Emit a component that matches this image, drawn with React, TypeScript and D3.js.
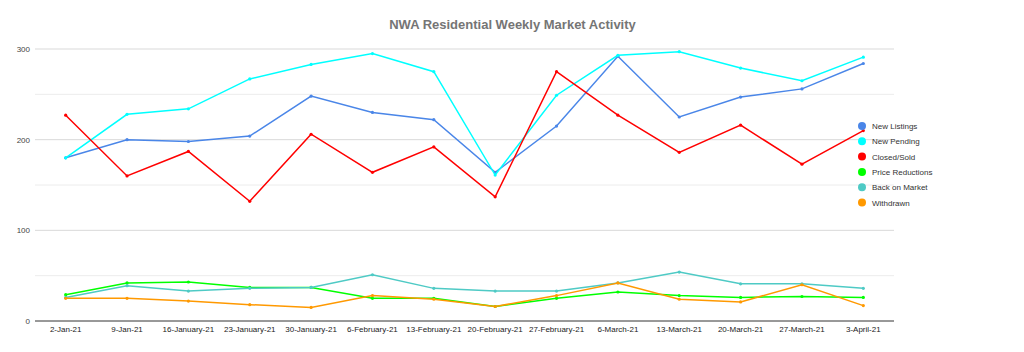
import React from 'react';
import * as d3 from 'd3';

const weeks = [
  '2-Jan-21', '9-Jan-21', '16-January-21', '23-January-21', '30-January-21',
  '6-February-21', '13-February-21', '20-February-21', '27-February-21',
  '6-March-21', '13-March-21', '20-March-21', '27-March-21', '3-April-21',
];

const newListings = [180, 200, 198, 204, 248, 230, 222, 164, 215, 292, 225, 247, 256, 284];
const newPending = [180, 228, 234, 267, 283, 295, 275, 161, 249, 293, 297, 279, 265, 291];
const closedSold = [227, 160, 187, 132, 206, 164, 192, 137, 275, 227, 186, 216, 173, 210];
const priceReductions = [29, 42, 43, 37, 37, 25, 25, 16, 25, 32, 28, 26, 27, 26];
const backOnMarket = [26, 39, 33, 36, 37, 51, 36, 33, 33, 42, 54, 41, 41, 36];
const withdrawn = [25, 25, 22, 18, 15, 28, 24, 16, 28, 42, 24, 21, 40, 17];

const seriesNames = ['New Listings', 'New Pending', 'Closed/Sold', 'Price Reductions', 'Back on Market', 'Withdrawn'];
const seriesColors = ['#4a86e8', '#00ffff', '#ff0000', '#00ff00', '#4ecac5', '#ff9900'];
const seriesValues = [newListings, newPending, closedSold, priceReductions, backOnMarket, withdrawn];

const yTicks = [0, 100, 200, 300];
const yGrid = [50, 100, 150, 200, 250, 300];

const width = 1024;
const height = 352;
const margin = { top: 49, left: 35, right: 130, bottom: 31 };

export default function App() {
  const x = d3.scalePoint<string>()
    .domain(weeks)
    .range([margin.left, width - margin.right])
    .padding(0.5);
  const y = d3.scaleLinear()
    .domain([0, 300])
    .range([height - margin.bottom, margin.top]);

  const line = d3.line<number>()
    .x((d, i) => x(weeks[i]) as number)
    .y(d => y(d));

  const font = 'Arial, "Liberation Sans", sans-serif';

  return (
    <div style={{ position: 'absolute', left: 0, top: 0 }}>
      <svg width={width} height={height} style={{ display: 'block', fontFamily: font }}>
        <rect width={width} height={height} fill="#fff" />
        <text x={512.5} y={29} textAnchor="middle" fontSize={13} fontWeight="bold" fill="#757575">
          NWA Residential Weekly Market Activity
        </text>
        {yGrid.map(t => (
          <line key={t} x1={margin.left} x2={width - margin.right} y1={y(t)} y2={y(t)}
            stroke={t % 100 === 0 ? '#d9d9d9' : '#ececec'} strokeWidth={1} />
        ))}
        <line x1={margin.left} x2={width - margin.right} y1={y(0)} y2={y(0)} stroke="#333" strokeWidth={1} />
        {yTicks.map(t => (
          <text key={t} x={30} y={y(t) + 3} textAnchor="end" fontSize={8} fill="#444">{t}</text>
        ))}
        {weeks.map(w => (
          <text key={w} x={x(w)} y={332} textAnchor="middle" fontSize={8} fill="#222">{w}</text>
        ))}
        {seriesValues.map((vals, s) => (
          <g key={seriesNames[s]}>
            <path d={line(vals) || ''} fill="none" stroke={seriesColors[s]} strokeWidth={1.5} />
            {vals.map((v, i) => (
              <circle key={i} cx={x(weeks[i])} cy={y(v)} r={1.6} fill={seriesColors[s]} />
            ))}
          </g>
        ))}
        <g transform="translate(862,126)">
          {seriesNames.map((n, i) => (
            <g key={n} transform={`translate(0,${i * 15.3})`}>
              <circle r={4} fill={seriesColors[i]} />
              <text x={10} y={3} fontSize={8} fill="#333">{n}</text>
            </g>
          ))}
        </g>
      </svg>
    </div>
  );
}
